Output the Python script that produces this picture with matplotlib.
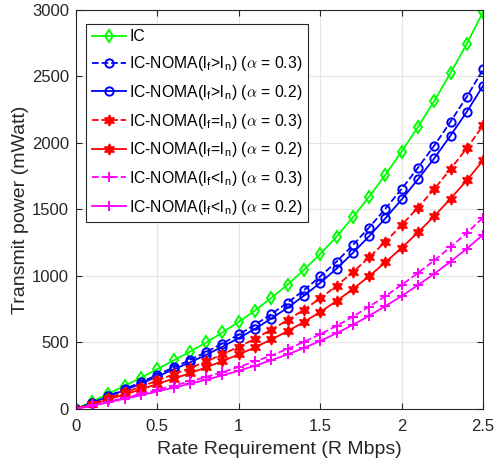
import numpy as np
import matplotlib.pyplot as plt

plt.rcParams['font.family'] = ['Liberation Sans', 'DejaVu Sans']
plt.rcParams['mathtext.fontset'] = 'cm'

rate = np.round(np.arange(0, 2.51, 0.1), 1)

# transmit power (mWatt)
ic = [0, 55, 115, 175, 235, 300, 365, 430, 500, 575, 655, 740, 835, 935, 1045,
      1165, 1295, 1440, 1595, 1760, 1935, 2120, 2315, 2525, 2745, 2985]
gt_03 = [0, 47, 98, 150, 201, 257, 312, 368, 428, 492, 560, 633, 714, 799, 893,
         996, 1107, 1231, 1364, 1505, 1654, 1813, 1979, 2159, 2347, 2552]
gt_02 = [0, 45, 94, 142, 191, 244, 297, 350, 407, 468, 533, 602, 680, 761, 851,
         948, 1054, 1172, 1298, 1433, 1575, 1726, 1884, 2055, 2234, 2430]
eq_03 = [0, 39, 82, 125, 168, 214, 261, 307, 357, 411, 468, 528, 596, 668, 746,
         832, 925, 1028, 1139, 1257, 1382, 1514, 1653, 1803, 1960, 2131]
eq_02 = [0, 34, 72, 110, 147, 188, 228, 269, 313, 360, 410, 463, 523, 585, 654,
         729, 811, 901, 998, 1102, 1211, 1327, 1449, 1581, 1718, 1869]
lt_03 = [0, 27, 55, 84, 113, 145, 176, 207, 241, 277, 316, 357, 402, 451, 504,
         562, 624, 694, 769, 848, 933, 1022, 1116, 1217, 1323, 1439]
lt_02 = [0, 24, 50, 77, 103, 132, 160, 189, 220, 252, 288, 325, 367, 410, 459,
         511, 569, 632, 700, 773, 849, 931, 1016, 1108, 1205, 1310]

fig = plt.figure(figsize=(4.96, 4.69), dpi=100)
ax = fig.add_axes([0.153, 0.128, 0.821, 0.851])

hexa = (6, 1, 0)
lw = 1.3
ax.plot(rate, ic, '-', color=(0, 1, 0), lw=lw, marker='d', ms=6, mfc='none', mew=1.4, label='IC')
ax.plot(rate, gt_03, '--', color=(0, 0, 1), lw=lw, marker='o', ms=6, mfc='none', mew=1.4,
        label=r'IC-NOMA(l$_\mathregular{f}$>l$_\mathregular{n}$) ($\alpha$ = 0.3)')
ax.plot(rate, gt_02, '-', color=(0, 0, 1), lw=lw, marker='o', ms=6, mfc='none', mew=1.4,
        label=r'IC-NOMA(l$_\mathregular{f}$>l$_\mathregular{n}$) ($\alpha$ = 0.2)')
ax.plot(rate, eq_03, '--', color=(1, 0, 0), lw=lw, marker=hexa, ms=8, mew=1.0,
        label=r'IC-NOMA(l$_\mathregular{f}$=l$_\mathregular{n}$) ($\alpha$ = 0.3)')
ax.plot(rate, eq_02, '-', color=(1, 0, 0), lw=lw, marker=hexa, ms=8, mew=1.0,
        label=r'IC-NOMA(l$_\mathregular{f}$=l$_\mathregular{n}$) ($\alpha$ = 0.2)')
ax.plot(rate, lt_03, '--', color=(1, 0, 1), lw=lw, marker='+', ms=7, mew=1.4,
        label=r'IC-NOMA(l$_\mathregular{f}$<l$_\mathregular{n}$) ($\alpha$ = 0.3)')
ax.plot(rate, lt_02, '-', color=(1, 0, 1), lw=lw, marker='+', ms=7, mew=1.4,
        label=r'IC-NOMA(l$_\mathregular{f}$<l$_\mathregular{n}$) ($\alpha$ = 0.2)')

ax.set_xlim(0, 2.5)
ax.set_ylim(0, 3000)
ax.set_xticks([0, 0.5, 1, 1.5, 2, 2.5])
ax.set_xticklabels(['0', '0.5', '1', '1.5', '2', '2.5'])
ax.set_yticks(range(0, 3001, 500))
ax.tick_params(labelsize=12, colors='#262626', direction='in', length=4,
               top=True, right=True)
ax.tick_params(axis='x', pad=7)
ax.tick_params(axis='y', pad=5)
ax.grid(True, color='#e6e6e6', lw=0.8)
for s in ax.spines.values():
    s.set_color('#262626')
    s.set_linewidth(0.8)

ax.set_xlabel('Rate Requirement (R Mbps)', fontsize=14, color='#262626', labelpad=5)
ax.set_ylabel('Transmit power (mWatt)', fontsize=14, color='#262626', labelpad=2)

leg = ax.legend(loc='upper left', bbox_to_anchor=(0.025, 0.965), borderaxespad=0,
                fontsize=11.3, handlelength=2.2, handletextpad=0.2, labelspacing=0.62,
                fancybox=False, framealpha=1, edgecolor='#262626', borderpad=0.35)
leg.get_frame().set_linewidth(0.8)

fig.savefig('out.png', dpi=100)
